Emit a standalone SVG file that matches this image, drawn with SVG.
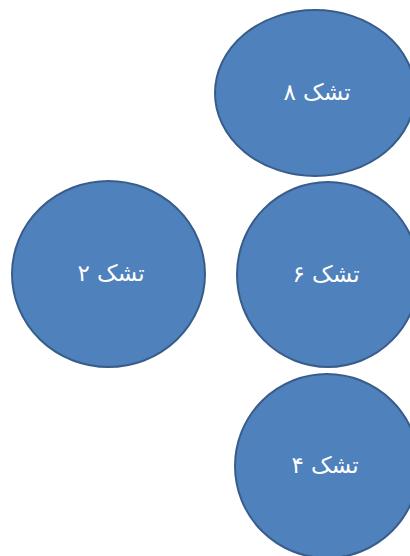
<svg xmlns="http://www.w3.org/2000/svg" width="410" height="556" viewBox="0 0 410 556">
<style>
.n{fill:#4F81BD;stroke:#385D8A;stroke-width:2}
.t{fill:#FFFFFF;font-family:"DejaVu Sans","Noto Sans",sans-serif;font-size:23px;text-anchor:middle;direction:rtl}
</style>
<rect width="410" height="556" fill="#FFFFFF"/>
<g id="connectors"></g>
<g id="node8">
<ellipse class="n" cx="315" cy="93" rx="100" ry="83"/>
<text class="t" x="317" y="100">تشک ۸</text>
</g>
<g id="node2">
<ellipse class="n" cx="108.5" cy="274" rx="96.5" ry="93"/>
<text class="t" x="111" y="281">تشک ۲</text>
</g>
<g id="node6">
<ellipse class="n" cx="328" cy="274.5" rx="91" ry="92.5"/>
<text class="t" x="326" y="282">تشک ۶</text>
</g>
<g id="node4">
<ellipse class="n" cx="327" cy="466" rx="92" ry="92"/>
<text class="t" x="325" y="473">تشک ۴</text>
</g>
</svg>
